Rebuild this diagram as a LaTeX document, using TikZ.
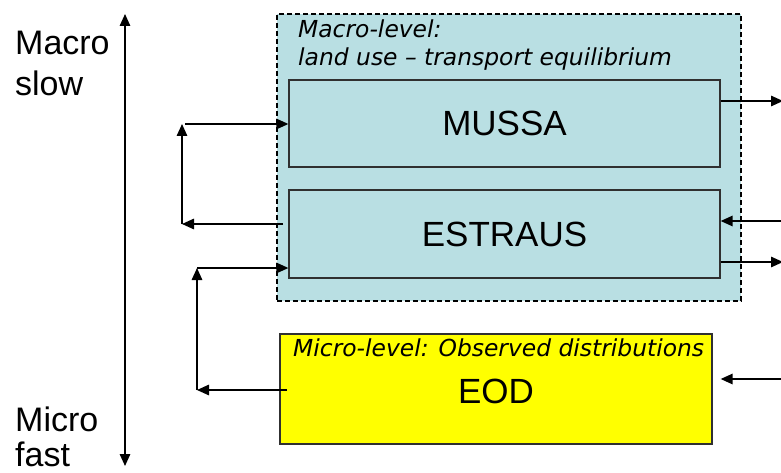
\documentclass[tikz,border=0pt]{standalone}
\usepackage{fontspec}
\setmainfont{Liberation Sans}
\newfontfamily\verd{DejaVu Sans}
\usetikzlibrary{arrows.meta}
\definecolor{macrobg}{HTML}{B9DFE3}
\definecolor{microbg}{HTML}{FFFF00}
\definecolor{boxline}{HTML}{303030}
\tikzset{
  every picture/.style={x=1pt,y=-1pt},
  model/.style={draw=boxline, line width=1.3pt, inner sep=0pt, font=\fontsize{35}{40}\selectfont},
  levelbox/.style={draw=black, line width=1.2pt, inner sep=0pt},
  title/.style={anchor=base west, inner sep=0pt, font=\verd\itshape\fontsize{23.4}{27}\selectfont},
  side/.style={anchor=base west, inner sep=0pt, text depth=0pt, font=\fontsize{34}{38}\selectfont},
  conn/.style={line width=1.4pt, -{Triangle[length=12pt,width=10.5pt]}},
}
\begin{document}
\begin{tikzpicture}
\useasboundingbox (0,0) rectangle (781,473);
% macro container
\node[levelbox, dashed, dash pattern=on 5pt off 3pt, fill=macrobg, minimum width=464pt, minimum height=287pt] (macro) at (509,157.5) {};
\node[title] (mt1) at (298,38) {Macro-level:};
\node[title] (mt2) at (298,66) {land use – transport equilibrium};
\node[model, fill=macrobg, minimum width=431pt, minimum height=87pt] (mussa) at (504.5,123.5) {MUSSA};
\node[model, fill=macrobg, minimum width=431pt, minimum height=88pt] (estraus) at (504.5,234) {ESTRAUS};
% micro
\node[model, fill=microbg, minimum width=432pt, minimum height=110pt] (eod) at (496,389) {};
\node[title] (et) at (293,356) {Micro-level: Observed distributions};
\node[font=\fontsize{35}{40}\selectfont, inner sep=0pt] (eodl) at (496,391) {EOD};
% side labels
\node[side] (macrol) at (15,55) {Macro};
\node[side] (slowl) at (15,96) {slow};
\node[side] (microl) at (15,431) {Micro};
\node[side] (fastl) at (15,466) {fast};
\coordinate (vt) at (125,14);
\coordinate (vb) at (125,466);
\draw[line width=1.4pt, {Triangle[length=12pt,width=10.5pt]}-{Triangle[length=12pt,width=10.5pt]}] (vt) -- (vb);
% right connectors
\coordinate (r1) at (783,101);
\coordinate (r2) at (783,221);
\coordinate (r3) at (783,262);
\coordinate (r4) at (783,379);
\draw[conn] (mussa.east |- r1) -- (r1);
\draw[conn] (r2) -- (estraus.east |- r2);
\draw[conn] (estraus.east |- r3) -- (r3);
\draw[conn] (r4) -- ([xshift=8pt]eod.east |- r4);
% left loop 1
\coordinate (la) at (283,224);
\coordinate (lb) at (182,224);
\coordinate (lc) at (182,124);
\coordinate (ld) at (185,124);
\draw[conn] (la) -- (lb);
\draw[conn] (lb) -- (lc);
\draw[conn] (ld) -- (mussa.west |- ld);
% left loop 2
\coordinate (ma) at (287,390);
\coordinate (mb) at (197,390);
\coordinate (mc) at (197,268);
\draw[conn] (ma) -- (mb);
\draw[conn] (mb) -- (mc);
\draw[conn] (mc) -- (estraus.west |- mc);
\end{tikzpicture}
\end{document}
